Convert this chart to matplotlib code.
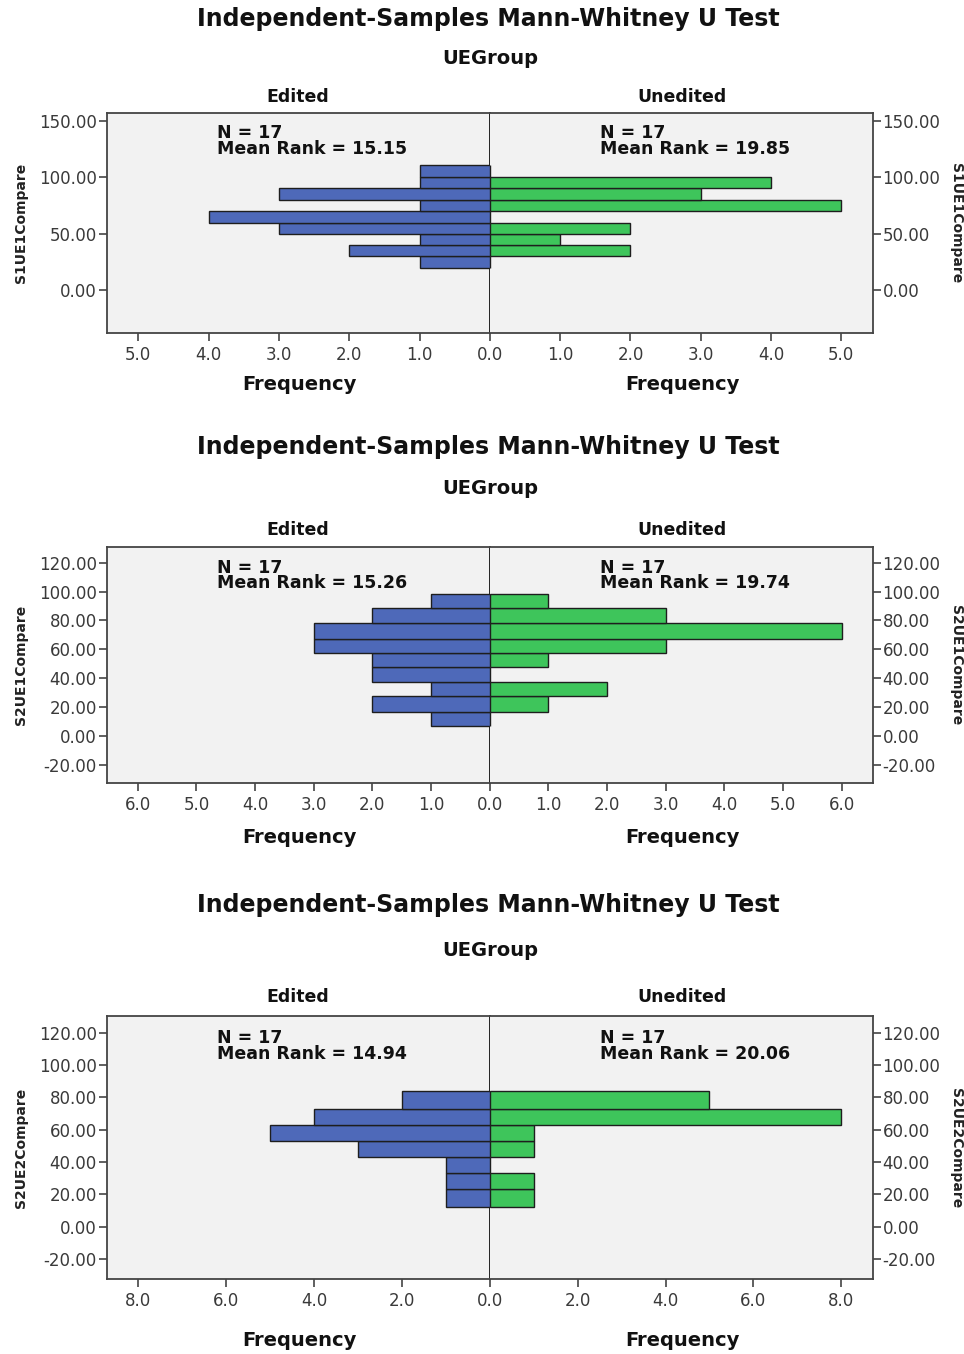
import matplotlib
matplotlib.use("Agg")
import matplotlib.pyplot as plt

# bin edges (value axis) and counts, bottom bin first
s1_edges = [19.2, 29.8, 39.6, 49.9, 59.6, 70.2, 79.7, 90.0, 99.8, 110.4]
s1_edited = [1, 2, 1, 3, 4, 1, 3, 1, 1]
s1_unedited = [0, 2, 1, 2, 0, 5, 3, 4, 0]

s2_edges = [6.7, 16.6, 27.5, 37.4, 47.4, 57.1, 67.3, 78.4, 88.3, 98.3]
s2_edited = [1, 2, 1, 2, 2, 3, 3, 2, 1]
s2_unedited = [0, 1, 2, 0, 1, 3, 6, 3, 1]

s3_edges = [12.4, 23.3, 33.2, 43.1, 53.0, 62.9, 72.8, 83.9]
s3_edited = [1, 1, 1, 3, 5, 4, 2]
s3_unedited = [1, 1, 0, 1, 1, 8, 5]

variables = ["S1UE1Compare", "S2UE1Compare", "S2UE2Compare"]
mean_rank_edited = ["15.15", "15.26", "14.94"]
mean_rank_unedited = ["19.85", "19.74", "20.06"]
n_edited = [17, 17, 17]
n_unedited = [17, 17, 17]

yticks = [[0, 50, 100, 150], list(range(-20, 121, 20)), list(range(-20, 121, 20))]
xticks = [[0, 1, 2, 3, 4, 5], [0, 1, 2, 3, 4, 5, 6], [0, 2, 4, 6, 8]]
ylims = [(-38.4, 156.5), (-33.0, 131.1), (-32.5, 130.3)]
xmax = [5.45, 6.53, 8.72]

W, H = 964, 1354
# pixel layout: (top, bottom, center) of each panel and text rows
panels = [
    dict(top=113.3, bot=333.3, mid=490.0, t1=19, t2=58, t3=97, fq=385),
    dict(top=546.7, bot=783.3, mid=489.5, t1=447, t2=488, t3=530, fq=837),
    dict(top=1016.0, bot=1279.3, mid=490.0, t1=905, t2=951, t3=997, fq=1340),
]
LEFT, RIGHT = 106.7, 872.7

BLUE = "#4e69b9"
GREEN = "#3ec55b"
BG = "#f2f2f2"
SPINE = "#444444"
TICKC = "#3a3a3a"

fig = plt.figure(figsize=(W / 100, H / 100), dpi=100)
fig.patch.set_facecolor("white")


def fy(py):
    return 1 - py / H


def fx(px):
    return px / W


all_edges = [s1_edges, s2_edges, s3_edges]
all_ed = [s1_edited, s2_edited, s3_edited]
all_un = [s1_unedited, s2_unedited, s3_unedited]

for i, p in enumerate(panels):
    edges = all_edges[i]
    bottoms = edges[:-1]
    heights = [edges[k + 1] - edges[k] for k in range(len(bottoms))]
    b = fy(p["bot"])
    h = (p["bot"] - p["top"]) / H

    axl = fig.add_axes([fx(LEFT), b, fx(p["mid"]) - fx(LEFT), h])
    axr = fig.add_axes([fx(p["mid"]), b, fx(RIGHT) - fx(p["mid"]), h])

    axl.barh(bottoms, all_ed[i], height=heights, align="edge",
             color=BLUE, edgecolor="#1e1e1e", linewidth=1.0, zorder=3)
    axr.barh(bottoms, all_un[i], height=heights, align="edge",
             color=GREEN, edgecolor="#1e1e1e", linewidth=1.0, zorder=3)

    axl.set_xlim(xmax[i], 0)
    axr.set_xlim(0, xmax[i])
    for ax in (axl, axr):
        ax.set_facecolor(BG)
        ax.set_ylim(*ylims[i])
        ax.set_yticks(yticks[i])
        for s in ax.spines.values():
            s.set_color(SPINE)
            s.set_linewidth(1.3)
        ax.tick_params(axis="both", colors=SPINE, labelcolor=TICKC,
                       labelsize=12, length=6, width=1.2, direction="out")

    axl.spines["right"].set_color("black")
    axl.spines["right"].set_linewidth(1.2)
    axr.spines["left"].set_visible(False)

    axl.set_xticks(xticks[i])
    axl.set_xticklabels(["%.1f" % v for v in xticks[i]])
    axr.set_xticks(xticks[i][1:])
    axr.set_xticklabels(["%.1f" % v for v in xticks[i][1:]])

    axl.set_yticklabels(["%.2f" % v for v in yticks[i]])
    axr.yaxis.tick_right()
    axr.set_yticklabels(["%.2f" % v for v in yticks[i]])
    axr.tick_params(axis="y", left=False, right=True, pad=1)
    axl.tick_params(axis="y", pad=1)

    axl.set_ylabel(variables[i], fontsize=10, fontweight="bold", color="#222222", labelpad=8)
    axr.yaxis.set_label_position("right")
    axr.set_ylabel(variables[i], fontsize=10, fontweight="bold", color="#222222",
                   rotation=270, labelpad=16)

    axl.text((217 - LEFT) / (p["mid"] - LEFT), 0.95,
             "N = %d\nMean Rank = %s" % (n_edited[i], mean_rank_edited[i]),
             transform=axl.transAxes, ha="left", va="top", fontsize=12.5,
             fontweight="bold", color="#111111", linespacing=0.85)
    axr.text((600 - p["mid"]) / (RIGHT - p["mid"]), 0.95,
             "N = %d\nMean Rank = %s" % (n_unedited[i], mean_rank_unedited[i]),
             transform=axr.transAxes, ha="left", va="top", fontsize=12.5,
             fontweight="bold", color="#111111", linespacing=0.85)

    fig.text(fx(488), fy(p["t1"]), "Independent-Samples Mann-Whitney U Test",
             ha="center", va="center", fontsize=17, fontweight="bold", color="#111111")
    fig.text(fx(490), fy(p["t2"]), "UEGroup", ha="center", va="center",
             fontsize=14, fontweight="bold", color="#111111")
    fig.text(fx(298), fy(p["t3"]), "Edited", ha="center", va="center",
             fontsize=12.5, fontweight="bold", color="#111111")
    fig.text(fx(682), fy(p["t3"]), "Unedited", ha="center", va="center",
             fontsize=12.5, fontweight="bold", color="#111111")
    fig.text(fx(299), fy(p["fq"]), "Frequency", ha="center", va="center",
             fontsize=14, fontweight="bold", color="#111111")
    fig.text(fx(682), fy(p["fq"]), "Frequency", ha="center", va="center",
             fontsize=14, fontweight="bold", color="#111111")

fig.savefig("out.png", dpi=100)
